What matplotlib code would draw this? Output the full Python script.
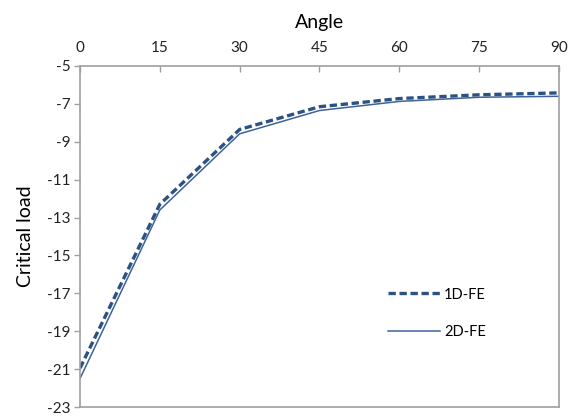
import matplotlib
matplotlib.use("Agg")
import matplotlib.pyplot as plt

angles = [0, 15, 30, 45, 60, 75, 90]
fe_1d = [-20.95, -12.3, -8.35, -7.15, -6.72, -6.52, -6.42]
fe_2d = [-21.5, -12.6, -8.58, -7.35, -6.87, -6.65, -6.6]

xticks = [0, 15, 30, 45, 60, 75, 90]
yticks = [-5, -7, -9, -11, -13, -15, -17, -19, -21, -23]

plt.rcParams['font.family'] = ['Lato', 'DejaVu Sans']
plt.rcParams['axes.unicode_minus'] = False

fig = plt.figure(figsize=(5.69, 4.19), dpi=100)
ax = fig.add_axes([0.1406, 0.0286, 0.8418, 0.8139])

ax.plot(angles, fe_1d, color='#2B5283', lw=2.4, ls=(0, (2.2, 1.1)), label='1D-FE')
ax.plot(angles, fe_2d, color='#3E6299', lw=1.1, label='2D-FE')

ax.set_xlim(0, 90)
ax.set_ylim(-23, -5)
ax.set_xticks(xticks)
ax.set_yticks(yticks)
ax.xaxis.tick_top()
ax.xaxis.set_label_position('top')
ax.tick_params(axis='x', direction='in', length=4, width=1, color='#A0A0A0',
               pad=8, labelsize=11, labelcolor='#222222')
ax.tick_params(axis='y', direction='out', length=4, width=1, color='#A0A0A0',
               pad=3, labelsize=11, labelcolor='#222222')
for s in ax.spines.values():
    s.set_color('#A0A0A0')
    s.set_linewidth(1.2)

ax.set_xlabel('Angle', fontsize=14, labelpad=9)
ax.set_ylabel('Critical load', fontsize=14, labelpad=9)

ax.legend(loc='center left', bbox_to_anchor=(0.615, 0.275), frameon=False,
          fontsize=10.5, handlelength=3.6, handletextpad=0.25, labelspacing=1.6)

fig.savefig('out.png', dpi=100)
